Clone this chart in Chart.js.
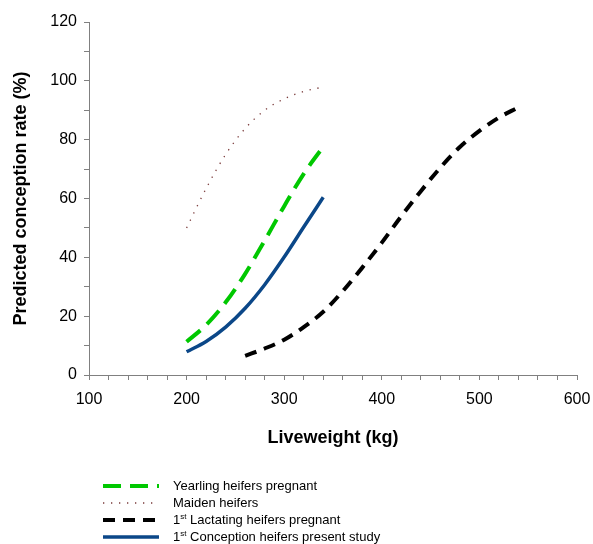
<!DOCTYPE html>
<html>
<head>
<meta charset="utf-8">
<script src="https://cdn.jsdelivr.net/npm/chart.js@4.4.1/dist/chart.umd.min.js"></script>
<style>
    html, body { margin: 0; padding: 0; background: #fff; }
    #wrap { position: relative; width: 593px; height: 544px; }
    #legend {
        position: absolute; left: 103px; top: 477px;
        font: 13px "Liberation Sans", Arial, sans-serif; color: #000;
    }
    #legend .row { height: 17px; display: flex; align-items: center; white-space: nowrap; }
    #legend svg { width: 56px; height: 8px; margin-right: 14px; flex: none; }
    #legend sup { font-size: 8px; vertical-align: 5px; line-height: 0; }
</style>
</head>
<body>
<div id="wrap">
    <canvas id="chart" width="593" height="544"></canvas>
    <div id="legend"></div>
</div>
<script>
// Heifer curves (x = liveweight kg)
var heiferWeights = [200, 220, 240, 260, 280, 300, 320, 340];
var yearling   = [11.3, 17.0, 24.7, 34.4, 45.7, 57.4, 68.4, 77.6];
var maiden     = [50.0, 63.4, 75.0, 83.8, 90.0, 93.9, 96.4, 97.9];
var conception = [7.9, 11.4, 16.3, 22.7, 30.7, 40.1, 50.3, 60.4];

// 1st lactating heifers
var lactWeights = [260, 280, 300, 320, 340, 360, 380, 400, 420, 440, 460, 480, 500, 520, 540];
var lactating   = [6.5, 9.0, 12.0, 16.3, 21.5, 28.5, 36.5, 45.0, 54.0, 62.5, 70.5, 77.5, 83.0, 87.5, 91.0];

var seriesLabels = [
    "Yearling heifers pregnant",
    "Maiden heifers",
    "1<sup>st</sup> Lactating heifers pregnant",
    "1<sup>st</sup> Conception heifers present study"
];

var FONT = "'Liberation Sans', Arial, sans-serif";

function pts(xs, ys) {
    return xs.map(function (x, i) { return {x: x, y: ys[i]}; });
}

var datasets = [
    {label: "Yearling heifers pregnant", data: pts(heiferWeights, yearling),
     borderColor: "#00c800", borderWidth: 4, borderDash: [18, 9]},
    {label: "Maiden heifers", data: pts(heiferWeights, maiden),
     borderColor: "#7a3a3a", borderWidth: 1.3, borderDash: [1.3, 6.7]},
    {label: "1st Lactating heifers pregnant", data: pts(lactWeights, lactating),
     borderColor: "#000000", borderWidth: 4, borderDash: [12, 8]},
    {label: "1st Conception heifers present study", data: pts(heiferWeights, conception),
     borderColor: "#0b4788", borderWidth: 3.5, borderDash: []}
];
datasets.forEach(function (d) {
    d.pointRadius = 0;
    d.fill = false;
    d.cubicInterpolationMode = "monotone";
    d.borderCapStyle = "butt";
});

var chart = new Chart(document.getElementById("chart"), {
    type: "line",
    data: {datasets: datasets},
    options: {
        responsive: false,
        animation: false,
        layout: {padding: {left: 0, top: 22, right: 16, bottom: 95}},
        plugins: {legend: {display: false}, tooltip: {enabled: false}},
        scales: {
            x: {
                type: "linear", min: 100, max: 600,
                afterFit: function (s) {
                    s.height = 74;
                    s.paddingLeft = 0;
                    s.paddingRight = 0;
                },
                border: {color: "#808080", width: 1},
                grid: {drawOnChartArea: false, drawTicks: true, tickLength: 5, tickColor: "#808080"},
                ticks: {
                    stepSize: 20, padding: 10, color: "#000", maxRotation: 0, autoSkip: false,
                    font: {family: FONT, size: 16},
                    callback: function (v) { return v % 100 === 0 ? v : ""; }
                },
                title: {display: true, text: "Liveweight (kg)", color: "#000",
                        font: {family: FONT, size: 18, weight: "bold"}, padding: {top: 0, bottom: 0}}
            },
            y: {
                min: 0, max: 120,
                afterFit: function (s) { s.width = 89; },
                border: {color: "#808080", width: 1},
                grid: {drawOnChartArea: false, drawTicks: true, tickLength: 5, tickColor: "#808080"},
                ticks: {
                    stepSize: 10, padding: 7, color: "#000", autoSkip: false,
                    font: {family: FONT, size: 16},
                    callback: function (v) { return v % 20 === 0 ? v : ""; }
                },
                title: {display: true, text: "Predicted conception rate (%)", color: "#000",
                        font: {family: FONT, size: 18, weight: "bold"}, padding: {top: 10, bottom: 0}}
            }
        }
    }
});

// HTML legend (keeps the superscript "st")
var legend = document.getElementById("legend");
chart.data.datasets.forEach(function (d, i) {
    var dash = d.borderDash.length ? d.borderDash.join(",") : "none";
    var row = document.createElement("div");
    row.className = "row";
    row.innerHTML =
        '<svg viewBox="0 0 56 8"><line x1="0" y1="4" x2="56" y2="4" stroke="' + d.borderColor +
        '" stroke-width="' + d.borderWidth + '" stroke-dasharray="' + dash + '"/></svg>' +
        '<span>' + seriesLabels[i] + '</span>';
    legend.appendChild(row);
});
</script>
</body>
</html>
